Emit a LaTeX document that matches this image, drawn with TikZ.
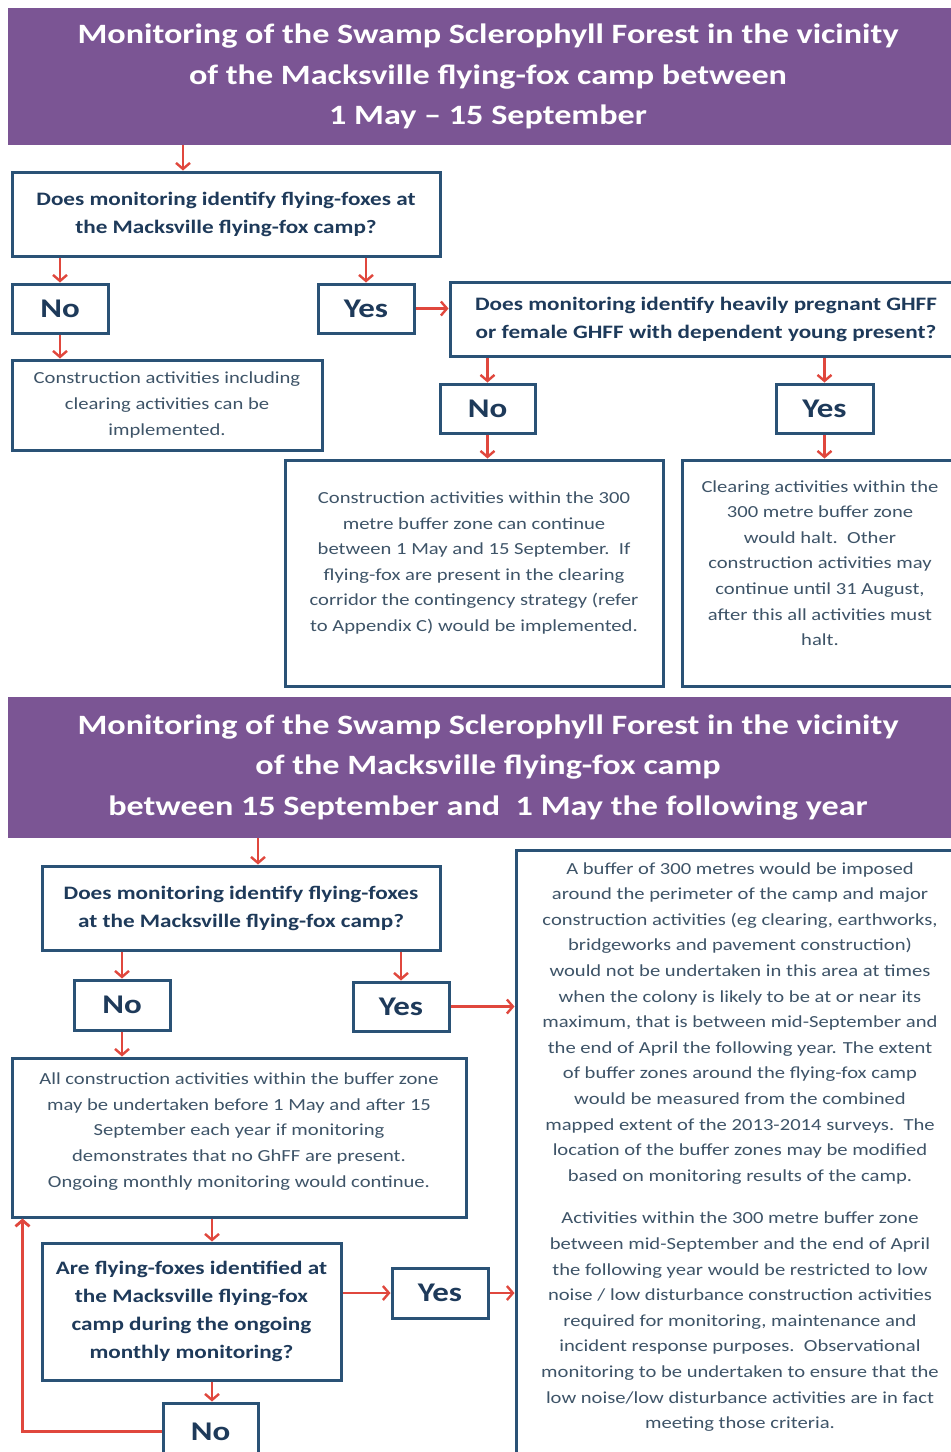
\documentclass[tikz,border=0pt]{standalone}
\usepackage{fontspec}
\setmainfont{Carlito}[FakeStretch=1.22]
\usetikzlibrary{arrows.meta,calc}
\definecolor{hdrpurple}{HTML}{7B5594}
\definecolor{boxblue}{HTML}{2A5276}
\definecolor{navy}{HTML}{1E3A5A}
\definecolor{bodytxt}{HTML}{3E5468}
\definecolor{arrred}{HTML}{E0473D}
\tikzset{
  hdr/.style={fill=hdrpurple, draw=none, text=white, align=center, inner sep=0pt,
    font=\fontsize{28}{40.5}\selectfont\bfseries},
  bx/.style={draw=boxblue, line width=3pt, fill=white, inner sep=0pt},
  qbox/.style={bx, text=navy, align=center, font=\fontsize{19}{28}\selectfont\bfseries},
  yn/.style={bx, text=navy, font=\fontsize{27}{30}\selectfont\bfseries},
  tbox/.style={bx, text=bodytxt, align=center, font=\fontsize{16.9}{25.6}\selectfont},
  txt/.style={text=bodytxt, align=center, inner sep=0pt, font=\fontsize{16.9}{25.6}\selectfont},
  arr/.style={draw=arrred, line width=2.4pt, -{Straight Barb[length=6pt,width=14pt]}},
  loopline/.style={draw=arrred, line width=2.8pt, -{Straight Barb[length=6pt,width=14pt]}},
}
\begin{document}
\begin{tikzpicture}[x=1pt,y=-1pt]
\useasboundingbox[fill=white] (0,0) rectangle (951,1452);
% ---------- first header ----------
\node[hdr, minimum width=960pt, minimum height=137pt] (h1) at (488,76.5)
  {Monitoring of the Swamp Sclerophyll Forest in the vicinity\\
   of the Macksville flying-fox camp between\\
   1 May -- 15 September};
\node[qbox, minimum width=428pt, minimum height=84pt] (q1) at (226,214)
  {Does monitoring identify flying-foxes at\\the Macksville flying-fox camp?};
\node[yn, minimum width=96pt, minimum height=49pt] (no1) at (60,308.5) {No};
\node[yn, minimum width=96pt, minimum height=49pt] (yes1) at (366,308.5) {Yes};
\node[qbox, minimum width=512pt, minimum height=74pt] (q2) at (706,319)
  {Does monitoring identify heavily pregnant GHFF\\or female GHFF with dependent young present?};
\node[tbox, minimum width=310pt, minimum height=90pt] (c1) at (167,405)
  {Construction activities including\\clearing activities can be\\implemented.};
\node[yn, minimum width=95pt, minimum height=49pt] (no2) at (487.5,408.5) {No};
\node[yn, minimum width=97pt, minimum height=49pt] (yes2) at (824.5,408.5) {Yes};
\node[bx, minimum width=378pt, minimum height=226pt] (c2) at (474,573) {};
\node[txt] (c2t) at ([yshift=10pt]c2.center)
  {Construction activities within the 300\\metre buffer zone can continue\\between 1 May and 15 September.\ \ If\\flying-fox are present in the clearing\\corridor the contingency strategy (refer\\to Appendix C) would be implemented.};
\node[bx, minimum width=276pt, minimum height=226pt] (c3) at (820,573) {};
\node[txt] (c3t) at ([yshift=10pt]c3.center)
  {Clearing activities within the\\300 metre buffer zone\\would halt.\ \ Other\\construction activities may\\continue until 31 August,\\after this all activities must\\halt.};
% ---------- second header ----------
\node[hdr, minimum width=960pt, minimum height=141pt] (h2) at (488,767.5)
  {Monitoring of the Swamp Sclerophyll Forest in the vicinity\\
   of the Macksville flying-fox camp\\
   between 15 September and\ \ 1 May the following year};
\node[qbox, minimum width=398pt, minimum height=84pt] (q3) at (241,908)
  {Does monitoring identify flying-foxes\\at the Macksville flying-fox camp?};
\node[yn, minimum width=96pt, minimum height=50pt] (no3) at (122,1005) {No};
\node[yn, minimum width=96pt, minimum height=49pt] (yes3) at (401,1006.5) {Yes};
\node[bx, minimum width=448pt, minimum height=610pt] (big) at (740,1155) {};
\node[txt] (bigt) at ([yshift=8pt]big.center)
  {A buffer of 300 metres would be imposed\\around the perimeter of the camp and major\\construction activities (eg clearing, earthworks,\\bridgeworks and pavement construction)\\would not be undertaken in this area at times\\when the colony is likely to be at or near its\\maximum, that is between mid-September and\\the end of April the following year. The extent\\of buffer zones around the flying-fox camp\\would be measured from the combined\\mapped extent of the 2013-2014 surveys.\ \ The\\location of the buffer zones may be modified\\based on monitoring results of the camp.\\[17pt]
   Activities within the 300 metre buffer zone\\between mid-September and the end of April\\the following year would be restricted to low\\noise / low disturbance construction activities\\required for monitoring, maintenance and\\incident response purposes.\ \ Observational\\monitoring to be undertaken to ensure that the\\low noise/low disturbance activities are in fact\\meeting those criteria.};
\node[bx, minimum width=454pt, minimum height=159pt] (c4) at (239,1137.5) {};
\node[txt] (c4t) at ([yshift=6pt]c4.center)
  {All construction activities within the buffer zone\\may be undertaken before 1 May and after 15\\September each year if monitoring\\demonstrates that no GhFF are present.\\Ongoing monthly monitoring would continue.};
\node[qbox, minimum width=299pt, minimum height=137pt] (q4) at (191.5,1311.5)
  {Are flying-foxes identified at\\the Macksville flying-fox\\camp during the ongoing\\monthly monitoring?};
\node[yn, minimum width=96pt, minimum height=50pt] (yes4) at (440,1293) {Yes};
\node[yn, minimum width=95pt, minimum height=57pt] (no4) at (210.5,1431.5) {No};
% ---------- connectors ----------
\coordinate (a1) at (183,0);
\draw[arr] (h1.south -| a1) -- (q1.north -| a1);
\draw[arr] (no1 |- q1.south) -- (no1.north);
\draw[arr] (yes1 |- q1.south) -- (yes1.north);
\draw[arr] (yes1.east) -- (yes1.east -| q2.west);
\draw[arr] (no1.south) -- (no1 |- c1.north);
\draw[arr] (no2 |- q2.south) -- (no2.north);
\draw[arr] (yes2 |- q2.south) -- (yes2.north);
\draw[arr] (no2.south) -- (no2 |- c2.north);
\draw[arr] (yes2.south) -- (yes2 |- c3.north);
\coordinate (a2) at (258,0);
\draw[arr] (h2.south -| a2) -- (q3.north -| a2);
\draw[arr] (no3 |- q3.south) -- (no3.north);
\draw[arr] (yes3 |- q3.south) -- (yes3.north);
\draw[arr] (yes3.east) -- (yes3.east -| big.west);
\draw[arr] (no3.south) -- (no3 |- c4.north);
\coordinate (a3) at (212,0);
\draw[arr] (c4.south -| a3) -- (q4.north -| a3);
\draw[arr] (q4.east |- yes4) -- (yes4.west);
\draw[arr] (yes4.east) -- (yes4.east -| big.west);
\draw[arr] (q4.south -| a3) -- (no4.north -| a3);
\draw[loopline] (no4.west) -| ([xshift=12pt]c4.south west);
\end{tikzpicture}
\end{document}
